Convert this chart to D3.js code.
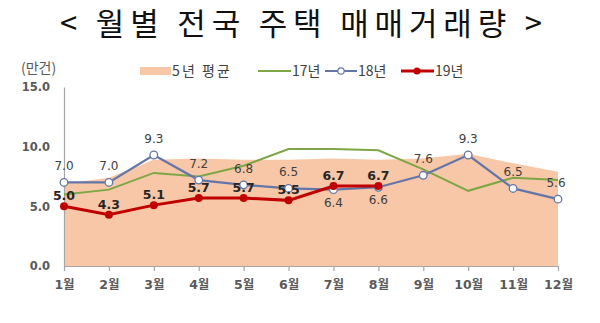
<!DOCTYPE html>
<html>
<head>
<meta charset="utf-8">
<script src="https://cdn.jsdelivr.net/npm/d3@7"></script>
<style>
  html, body { margin: 0; padding: 0; background: #fff; }
  svg { display: block; }
</style>
</head>
<body>
<svg id="chart" width="600" height="323"></svg>
<script>
// Monthly housing transaction volume (unit: 10,000 cases)
const months = ["1월","2월","3월","4월","5월","6월","7월","8월","9월","10월","11월","12월"];
const avg5y  = [6.9, 7.4, 8.9, 9.0, 8.9, 8.9, 9.0, 8.9, 9.0, 9.4, 8.6, 7.9];
const y2017  = [6.0, 6.4, 7.8, 7.5, 8.4, 9.8, 9.8, 9.7, 8.1, 6.3, 7.4, 7.2];
const y2018  = [7.0, 7.0, 9.3, 7.2, 6.8, 6.5, 6.4, 6.6, 7.6, 9.3, 6.5, 5.6];
const y2019  = [5.0, 4.3, 5.1, 5.7, 5.7, 5.5, 6.7, 6.7];
const yTicks = [0, 5, 10, 15];
const legendLabels = ["5년 평균", "17년", "18년", "19년"];
const titleText = "< 월별 전국 주택 매매거래량 >";
const unitText = "(만건)";

const C = {
  area: "#F8C7A7",
  g17: "#7EA646",
  b18: "#6476A8",
  r19: "#C00000",
  axis: "#A6A6A6",
  tick: "#595959",
  label: "#404040"
};

const svg = d3.select("#chart");
const font = "'DejaVu Sans', 'Noto Sans CJK KR', sans-serif";

const x = d3.scalePoint().domain(months).range([64, 558]);
const y = d3.scaleLinear().domain([0, 15]).range([266, 87]);

// Title
svg.append("text")
  .attr("x", 60).attr("y", 35)
  .attr("font-family", "'Noto Sans CJK KR', sans-serif")
  .attr("font-size", 31)
  .attr("fill", "#111")
  .attr("textLength", 482)
  .attr("lengthAdjust", "spacing")
  .text(titleText);

// Unit label
svg.append("text")
  .attr("x", 21).attr("y", 73)
  .attr("font-family", "'Noto Sans CJK KR', sans-serif")
  .attr("font-size", 14)
  .attr("fill", C.tick)
  .text(unitText);

// 5-year average area
svg.append("path")
  .datum(avg5y)
  .attr("fill", C.area)
  .attr("d", d3.area()
    .x((d, i) => x(months[i]))
    .y0(y(0))
    .y1(d => y(d))(avg5y));

// Y axis
const yAxis = svg.append("g")
  .attr("transform", "translate(64,0)")
  .call(d3.axisLeft(y).tickValues(yTicks).tickSize(0).tickPadding(14).tickFormat(d3.format(".1f")));
yAxis.select(".domain").attr("stroke", C.axis).attr("stroke-width", 1.2);
yAxis.selectAll("text")
  .attr("font-family", font).attr("font-size", 11.5).attr("font-weight", "bold")
  .attr("fill", C.tick);

// X axis
const xAxis = svg.append("g")
  .attr("transform", `translate(0,${y(0)})`)
  .call(d3.axisBottom(x).tickSize(5).tickPadding(9).tickSizeOuter(0));
xAxis.select(".domain").attr("stroke", C.axis).attr("stroke-width", 1.2);
xAxis.selectAll(".tick line").attr("stroke", C.axis).attr("stroke-width", 1.2);
xAxis.selectAll("text")
  .attr("font-family", font).attr("font-size", 12.5).attr("font-weight", "bold")
  .attr("fill", C.tick);

const line = d3.line().x((d, i) => x(months[i])).y(d => y(d));

// 2017 line
svg.append("path").attr("d", line(y2017))
  .attr("fill", "none").attr("stroke", C.g17).attr("stroke-width", 2);

// 2018 line + open markers
svg.append("path").attr("d", line(y2018))
  .attr("fill", "none").attr("stroke", C.b18).attr("stroke-width", 2.2);
svg.selectAll(".m18").data(y2018).enter().append("circle")
  .attr("cx", (d, i) => x(months[i])).attr("cy", d => y(d)).attr("r", 3.8)
  .attr("fill", "#fff").attr("stroke", C.b18).attr("stroke-width", 1.3);

// 2019 line + filled markers
svg.append("path").attr("d", line(y2019))
  .attr("fill", "none").attr("stroke", C.r19).attr("stroke-width", 3);
svg.selectAll(".m19").data(y2019).enter().append("circle")
  .attr("cx", (d, i) => x(months[i])).attr("cy", d => y(d)).attr("r", 4)
  .attr("fill", C.r19);

// 2018 value labels (7월, 8월 placed below the point)
const below18 = new Set([6, 7]);
svg.selectAll(".l18").data(y2018).enter().append("text")
  .attr("x", (d, i) => x(months[i]) + (i === 11 ? -2 : 0))
  .attr("y", (d, i) => below18.has(i) ? y(d) + 17 : y(d) - 12)
  .attr("text-anchor", "middle")
  .attr("font-family", font).attr("font-size", 12)
  .attr("fill", C.label)
  .text(d => d3.format(".1f")(d));

// 2019 value labels
svg.selectAll(".l19").data(y2019).enter().append("text")
  .attr("x", (d, i) => x(months[i]))
  .attr("y", d => y(d) - 6)
  .attr("text-anchor", "middle")
  .attr("font-family", font).attr("font-size", 12.5).attr("font-weight", "bold")
  .attr("fill", "#262626")
  .text(d => d3.format(".1f")(d));

// Legend
const lg = svg.append("g").attr("font-family", "'Noto Sans CJK KR', sans-serif")
  .attr("font-size", 14).attr("fill", C.label);
const ly = 71;
lg.append("rect").attr("x", 140).attr("y", ly - 4).attr("width", 31).attr("height", 8).attr("fill", C.area);
lg.append("text").attr("x", 172).attr("y", ly + 5)
  .attr("textLength", 58).attr("lengthAdjust", "spacing").text(legendLabels[0]);

lg.append("line").attr("x1", 258).attr("x2", 291).attr("y1", ly).attr("y2", ly)
  .attr("stroke", C.g17).attr("stroke-width", 2);
lg.append("text").attr("x", 292).attr("y", ly + 5).text(legendLabels[1]);

lg.append("line").attr("x1", 325).attr("x2", 357).attr("y1", ly).attr("y2", ly)
  .attr("stroke", C.b18).attr("stroke-width", 2);
lg.append("circle").attr("cx", 341).attr("cy", ly).attr("r", 3.2)
  .attr("fill", "#fff").attr("stroke", C.b18).attr("stroke-width", 1.2);
lg.append("text").attr("x", 358).attr("y", ly + 5).text(legendLabels[2]);

lg.append("line").attr("x1", 401).attr("x2", 434).attr("y1", ly).attr("y2", ly)
  .attr("stroke", C.r19).attr("stroke-width", 3);
lg.append("circle").attr("cx", 417).attr("cy", ly).attr("r", 3.5).attr("fill", C.r19);
lg.append("text").attr("x", 435).attr("y", ly + 5).text(legendLabels[3]);
</script>
</body>
</html>
